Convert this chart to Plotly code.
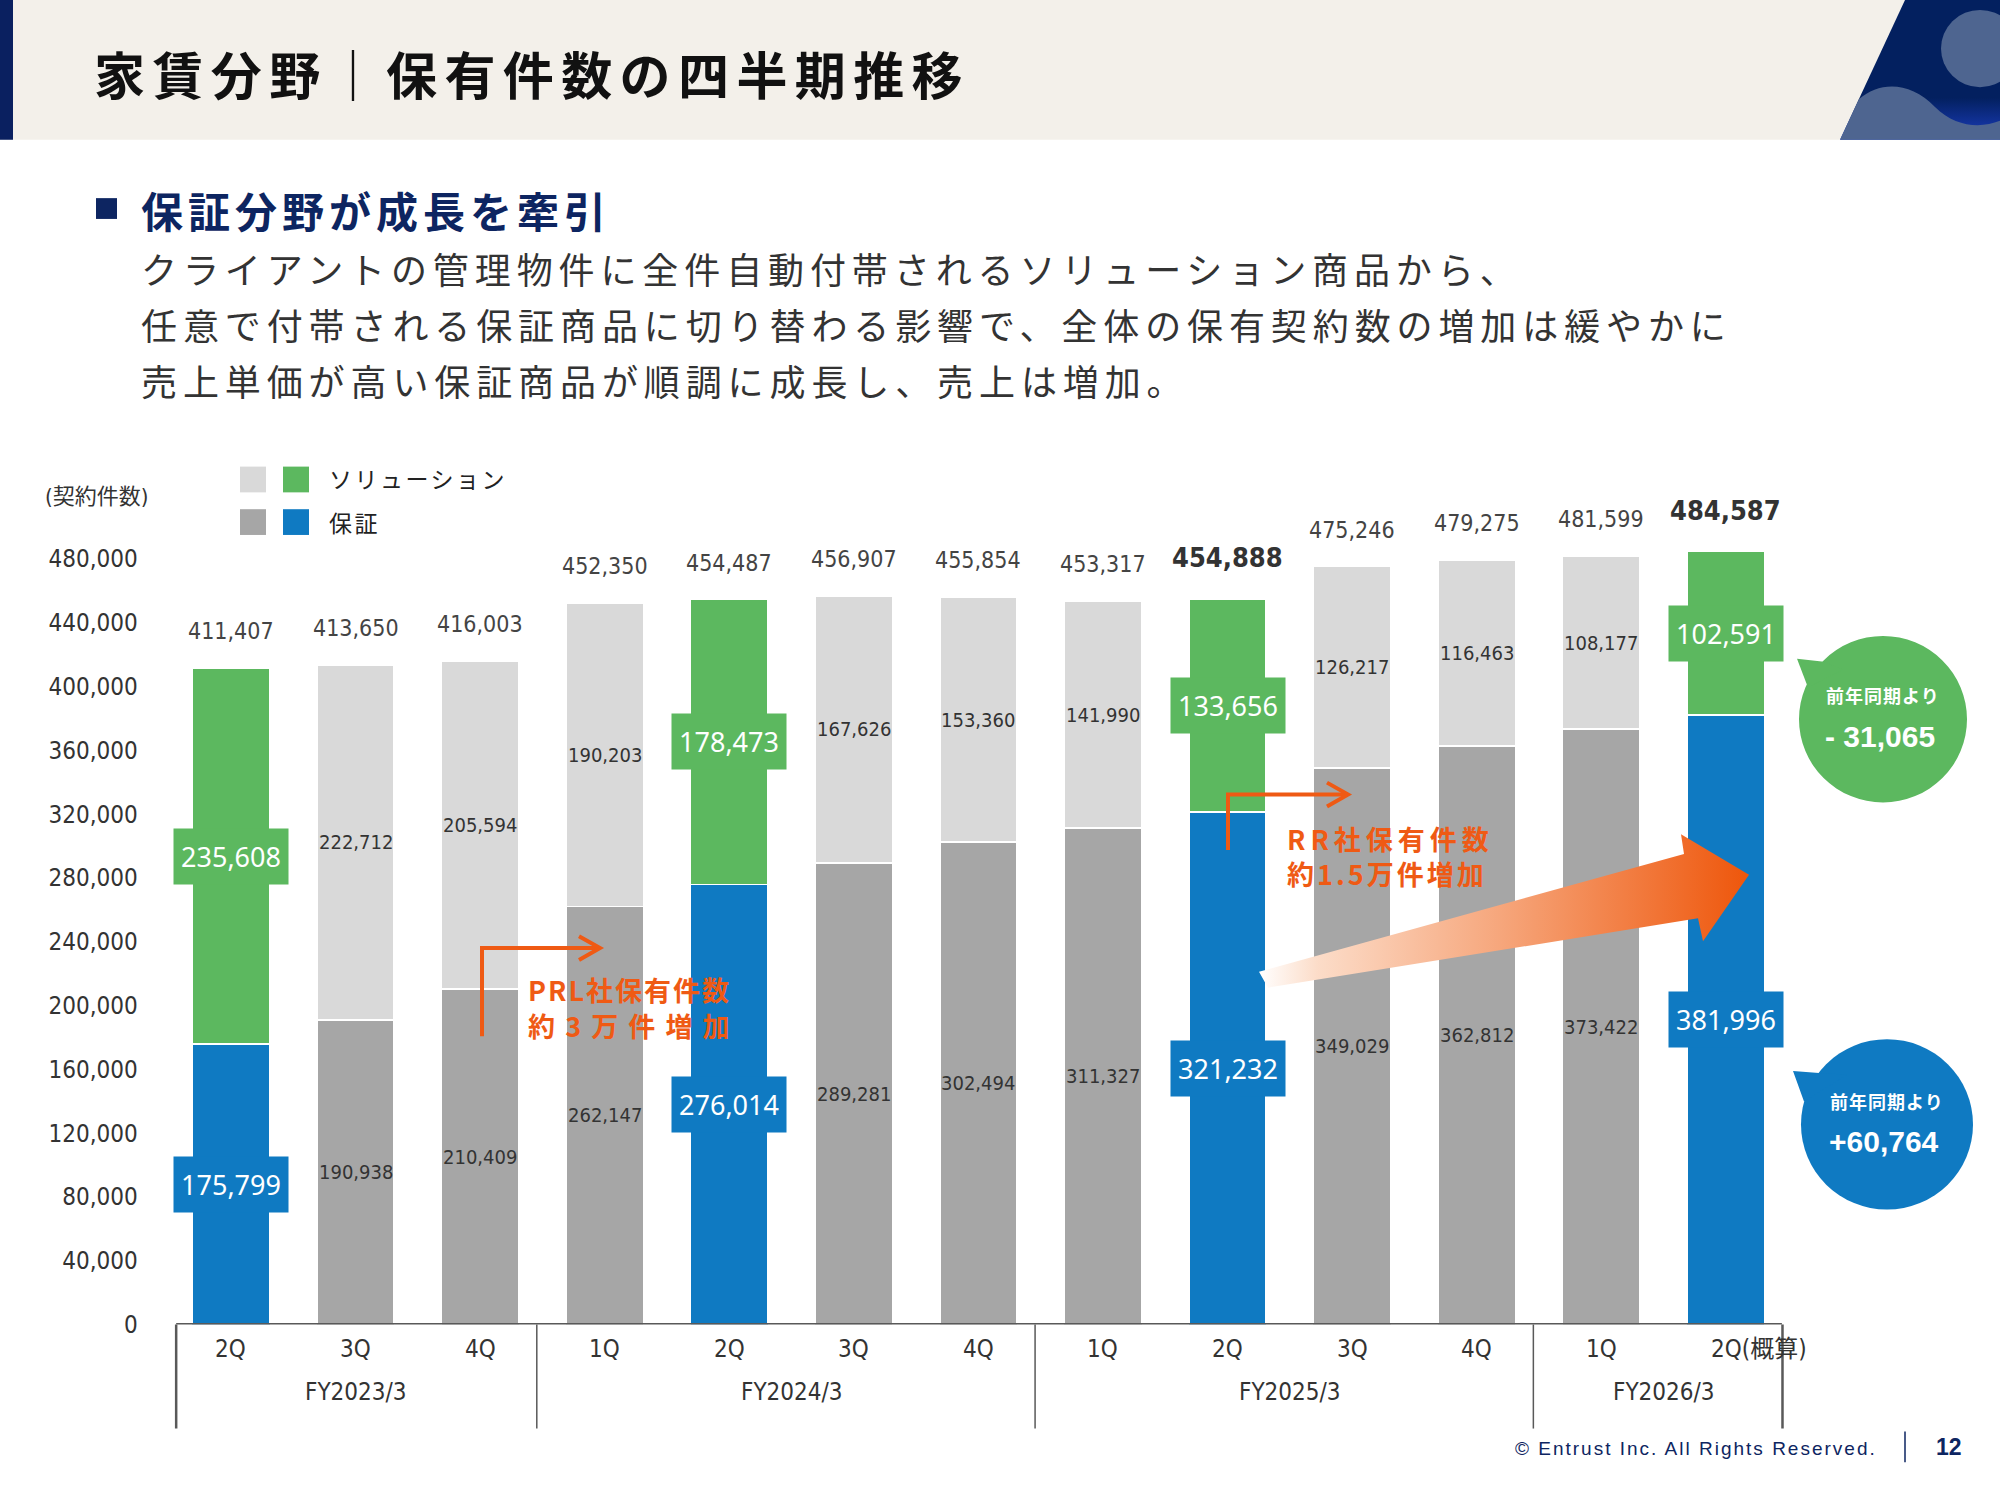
import plotly.graph_objects as go

# ---------------- data ----------------
quarters = ["2Q", "3Q", "4Q", "1Q", "2Q", "3Q", "4Q", "1Q", "2Q", "3Q", "4Q", "1Q", "2Q(概算)"]
fiscal_years = ["FY2023/3", "FY2024/3", "FY2025/3", "FY2026/3"]
fy_first_idx = [0, 3, 7, 11]
fy_last_idx = [2, 6, 10, 12]
guarantee = [175799, 190938, 210409, 262147, 276014, 289281, 302494,
             311327, 321232, 349029, 362812, 373422, 381996]
solution = [235608, 222712, 205594, 190203, 178473, 167626, 153360,
            141990, 133656, 126217, 116463, 108177, 102591]
totals = [411407, 413650, 416003, 452350, 454487, 456907, 455854,
          453317, 454888, 475246, 479275, 481599, 484587]
highlight = [True, False, False, False, True, False, False,
             False, True, False, False, False, True]
bold_total = [False, False, False, False, False, False, False,
              False, True, False, False, False, True]
y_tick_vals = [0, 40000, 80000, 120000, 160000, 200000, 240000, 280000,
               320000, 360000, 400000, 440000, 480000]
yoy_solution = "- 31,065"
yoy_guarantee = "+60,764"

# ---------------- style ----------------
W, H = 2000, 1500
GREEN = "#5CB85F"
BLUE = "#0F7AC2"
LGRAY = "#D9D9D9"
DGRAY = "#A6A6A6"
NAVY = "#0D2561"
ORANGE = "#EF5A14"
TXT = "#333333"
JP = "Noto Sans CJK JP"
NARROW = "Liberation Sans Narrow, DejaVu Sans Condensed, Noto Sans CJK JP"


def X(px):
    return px / W


def Y(py):
    return 1 - py / H


def path(points, close=True):
    s = "M" + " L".join(f"{X(x):.5f},{Y(y):.5f}" for x, y in points)
    return s + (" Z" if close else "")


def ls(text, sp):
    return f'<span style="letter-spacing:{sp}px">{text}</span>'


def note(px, py, text, size, color, family=JP, xa="center", ya="middle"):
    return dict(xref="paper", yref="paper", x=X(px), y=Y(py), xanchor=xa, yanchor=ya,
                text=text, showarrow=False, font=dict(family=family, size=size, color=color))


xs = list(range(len(quarters)))
sol_colors = [GREEN if h else LGRAY for h in highlight]
gua_colors = [BLUE if h else DGRAY for h in highlight]

fig = go.Figure()
fig.add_trace(go.Bar(x=xs, y=guarantee, marker=dict(color=gua_colors, line=dict(color="white", width=1.5)),
                     width=0.62, name="保証", hoverinfo="skip"))
fig.add_trace(go.Bar(x=xs, y=solution, marker=dict(color=sol_colors, line=dict(color="white", width=1.5)),
                     width=0.62, name="ソリューション", hoverinfo="skip"))

# header navy parallelogram with gradient (pixel-space overlay subplot)
para = [(1905, 0), (2000, 0), (2000, 141), (1840, 141), (1905, 0)]
fig.add_trace(go.Scatter(
    x=[p[0] for p in para], y=[p[1] for p in para], xaxis="x2", yaxis="y2", mode="lines",
    line=dict(width=0, color="rgba(0,0,0,0)"), fill="toself",
    fillgradient=dict(type="vertical", colorscale=[[0, "#1B3DBE"], [0.3, "#03205F"], [1, "#03205F"]]),
    hoverinfo="skip", showlegend=False))

# gradient arrow
arrow_pts = [(1259, 981), (1684, 862), (1681, 842), (1749, 883), (1703, 950), (1698, 927), (1268, 997), (1259, 981)]
fig.add_trace(go.Scatter(
    x=[p[0] for p in arrow_pts], y=[p[1] for p in arrow_pts],
    xaxis="x2", yaxis="y2", mode="lines", line=dict(width=0, color="rgba(0,0,0,0)"),
    fill="toself",
    fillgradient=dict(type="horizontal",
                      colorscale=[[0, "#FFFFFF"], [0.12, "#FCDCC8"], [0.5, "#F6A57A"], [1, "#EE560B"]]),
    hoverinfo="skip", showlegend=False))

shapes = []
ann = []

# ---- header ----
shapes.append(dict(type="rect", xref="paper", yref="paper", x0=0, x1=1, y0=Y(141), y1=1,
                   fillcolor="#F3F0EA", line=dict(width=0), layer="below"))
shapes.append(dict(type="rect", xref="paper", yref="paper", x0=0, x1=X(13), y0=Y(141), y1=1,
                   fillcolor="#0A2060", line=dict(width=0)))
shapes.append(dict(type="circle", xref="paper", yref="paper", x0=X(1941), x1=X(2019), y0=Y(88), y1=Y(10),
                   fillcolor="#4E6590", line=dict(width=0)))
wave = (f"M{X(1859):.5f},{Y(100):.5f} C{X(1880):.5f},{Y(82):.5f} {X(1910):.5f},{Y(82):.5f} {X(1935):.5f},{Y(108):.5f} "
        f"C{X(1955):.5f},{Y(128):.5f} {X(1980):.5f},{Y(130):.5f} {X(2000):.5f},{Y(122):.5f} "
        f"L{X(2000):.5f},{Y(141):.5f} L{X(1840):.5f},{Y(141):.5f} Z")
shapes.append(dict(type="path", xref="paper", yref="paper", path=wave, fillcolor="#4E6590", line=dict(width=0)))

ann.append(note(92, 74, "<b>" + ls("家賃分野｜保有件数の四半期推移", 7.4) + "</b>", 51, "#111111", xa="left"))

# ---- subtitle & body ----
shapes.append(dict(type="rect", xref="paper", yref="paper", x0=X(96), x1=X(117), y0=Y(221), y1=Y(200),
                   fillcolor=NAVY, line=dict(width=0)))
ann.append(note(139, 211, "<b>" + ls("保証分野が成長を牽引", 5) + "</b>", 42, NAVY, xa="left"))
body = ["クライアントの管理物件に全件自動付帯されるソリューション商品から、",
        "任意で付帯される保証商品に切り替わる影響で、全体の保有契約数の増加は緩やかに",
        "売上単価が高い保証商品が順調に成長し、売上は増加。"]
for i, line in enumerate(body):
    ann.append(note(139, 271 + 56.5 * i, ls(line, 5.9), 36, TXT, xa="left"))

# ---- legend ----
for (x0, y0, c) in [(240, 471, LGRAY), (283, 471, GREEN), (240, 514, DGRAY), (283, 514, BLUE)]:
    shapes.append(dict(type="rect", xref="paper", yref="paper", x0=X(x0), x1=X(x0 + 26), y0=Y(y0 + 26), y1=Y(y0),
                       fillcolor=c, line=dict(width=0)))
ann.append(note(327, 483, ls("ソリューション", 2.5), 23, "#222", xa="left"))
ann.append(note(327, 527, ls("保証", 2.5), 23, "#222", xa="left"))
ann.append(note(43, 501, "(契約件数)", 22, TXT, family=NARROW, xa="left"))

# ---- bar labels ----
for i in xs:
    g, s, t = guarantee[i], solution[i], totals[i]
    if highlight[i]:
        for val, yc, col in [(g, g / 2, BLUE), (s, g + s / 2, GREEN)]:
            ann.append(dict(x=i, y=yc, xref="x", yref="y", xanchor="center", yanchor="middle",
                            text=f"{val:,}", showarrow=False,
                            bgcolor=col, width=112, height=53, borderpad=1,
                            font=dict(family="Noto Sans", size=27, color="white")))
    else:
        for val, yc in [(g, g / 2), (s, g + s / 2)]:
            ann.append(dict(x=i, y=yc, xref="x", yref="y", xanchor="center", yanchor="middle",
                            text=f"{val:,}", showarrow=False,
                            font=dict(family=NARROW, size=20, color=TXT)))
    if bold_total[i]:
        ann.append(dict(x=i, y=t, xref="x", yref="y", xanchor="center", yanchor="bottom", yshift=24,
                        text=f"<b>{t:,}</b>", showarrow=False, font=dict(family=NARROW, size=27, color="#333")))
    else:
        ann.append(dict(x=i, y=t, xref="x", yref="y", xanchor="center", yanchor="bottom", yshift=22,
                        text=f"{t:,}", showarrow=False, font=dict(family=NARROW, size=23, color="#444")))

# ---- x axis labels ----
for i, q in enumerate(quarters):
    if "(" in q:
        ann.append(dict(x=i, xref="x", yref="paper", y=Y(1362), xanchor="left", yanchor="middle", xshift=-17,
                        text=q, showarrow=False, font=dict(family=NARROW, size=24, color=TXT)))
    else:
        ann.append(dict(x=i, xref="x", yref="paper", y=Y(1362), xanchor="center", yanchor="middle",
                        text=q, showarrow=False, font=dict(family=NARROW, size=24, color=TXT)))
for fy, a, b in zip(fiscal_years, fy_first_idx, fy_last_idx):
    ann.append(dict(x=(a + b) / 2, xref="x", yref="paper", y=Y(1405), xanchor="center", yanchor="middle",
                    text=fy, showarrow=False, font=dict(family=NARROW, size=24, color=TXT)))

# baseline & separators
shapes.append(dict(type="line", xref="x", yref="y", x0=-0.44, x1=12.45, y0=0, y1=0,
                   line=dict(color="#595959", width=3)))
seps = [-0.44] + [b + 0.455 for b in fy_last_idx]
for k, sx in enumerate(seps):
    shapes.append(dict(type="line", xref="x", yref="paper", x0=sx, x1=sx, y0=Y(1337), y1=Y(1442),
                       line=dict(color="#595959", width=2.5 if k in (0, len(seps) - 1) else 1.5)))

# ---- orange elbow arrows ----
for pts in [[(482, 1046), (482, 957), (600, 957)], [(1228, 858), (1228, 802), (1348, 802)]]:
    shapes.append(dict(type="path", xref="paper", yref="paper", path=path(pts, close=False),
                       line=dict(color=ORANGE, width=4)))
    tx, ty = pts[-1]
    shapes.append(dict(type="path", xref="paper", yref="paper",
                       path=path([(tx - 21, ty - 12), (tx, ty), (tx - 21, ty + 12)], close=False),
                       line=dict(color=ORANGE, width=4)))
ann.append(note(526, 999, "<b>" + ls("PRL社保有件数", 2) + "</b>", 27, ORANGE, xa="left"))
ann.append(note(526, 1035, "<b>" + ls("約 3 万 件 増 加", 2) + "</b>", 27, ORANGE, xa="left"))
ann.append(note(1285, 846, "<b>" + ls("RR社保有件数", 5) + "</b>", 27, ORANGE, xa="left"))
ann.append(note(1285, 882, "<b>" + ls("約1.5万件増加", 3) + "</b>", 27, ORANGE, xa="left"))

# ---- bubbles ----
for (cx, cy, r, col, tail, val) in [
        (1883, 726, 84, GREEN, [(1824, 668), (1797, 665), (1808, 694)], yoy_solution),
        (1887, 1135, 86, BLUE, [(1819, 1083), (1793, 1081), (1804, 1112)], yoy_guarantee)]:
    shapes.append(dict(type="circle", xref="paper", yref="paper", x0=X(cx - r), x1=X(cx + r),
                       y0=Y(cy + r), y1=Y(cy - r), fillcolor=col, line=dict(width=0)))
    shapes.append(dict(type="path", xref="paper", yref="paper", path=path(tail + [(cx - 40, cy - 50)]),
                       fillcolor=col, line=dict(width=0)))
    ann.append(note(cx, cy - 24, "<b>" + ls("前年同期より", 1) + "</b>", 18, "white"))
    ann.append(note(cx - 3, cy + 17, f"<b>{val}</b>", 30, "white", family="Liberation Sans, Arial"))

# ---- footer ----
ann.append(note(1879, 1462, ls("© Entrust Inc. All Rights Reserved.", 2), 19, NAVY,
                family="Liberation Sans, Arial", xa="right"))
shapes.append(dict(type="line", xref="paper", yref="paper", x0=X(1905), x1=X(1905), y0=Y(1476), y1=Y(1445),
                   line=dict(color=NAVY, width=1.5)))
ann.append(note(1949, 1461, "<b>12</b>", 23, NAVY, family="Liberation Sans, Arial"))

fig.update_layout(
    width=W, height=H, margin=dict(l=0, r=0, t=0, b=0),
    paper_bgcolor="white", plot_bgcolor="rgba(0,0,0,0)",
    barmode="stack", showlegend=False,
    xaxis=dict(domain=[X(168.7), X(1788.1)], range=[-0.5, 12.5], showticklabels=False,
               showgrid=False, zeroline=False, showline=False, fixedrange=True),
    yaxis=dict(domain=[Y(1337), Y(532)], range=[0, 500000], tickvals=y_tick_vals,
               ticktext=[f"{v:,}" for v in y_tick_vals], ticks="", ticklabelstandoff=30,
               tickfont=dict(family=NARROW, size=24, color=TXT),
               showgrid=False, zeroline=False, showline=False, fixedrange=True),
    xaxis2=dict(domain=[0, 1], range=[0, W], anchor="y2", visible=False, fixedrange=True),
    yaxis2=dict(domain=[0, 1], range=[H, 0], anchor="x2", visible=False, fixedrange=True),
    shapes=shapes, annotations=ann,
)

fig.write_html("out.html", config={"displayModeBar": False},
               post_script="document.body.style.margin='0px';document.body.style.overflow='hidden';")
